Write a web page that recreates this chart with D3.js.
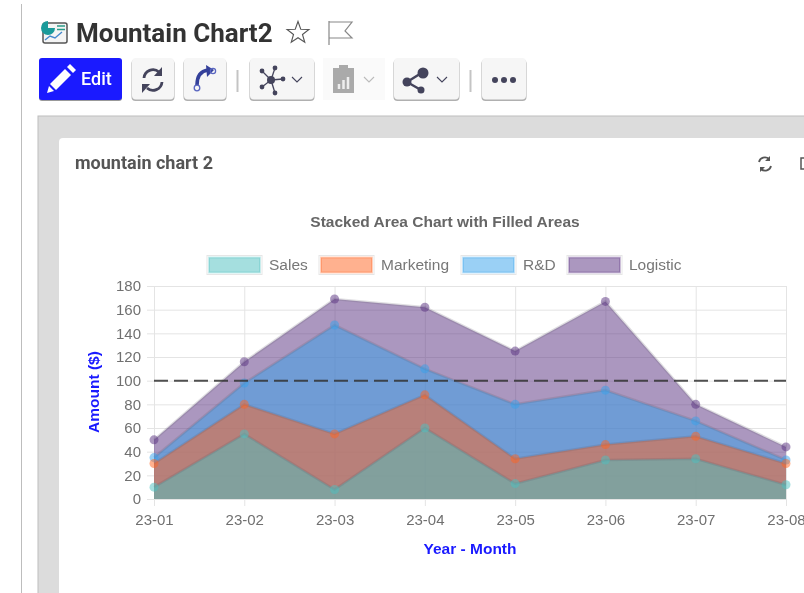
<!DOCTYPE html>
<html>
<head>
<meta charset="utf-8">
<script src="https://cdn.jsdelivr.net/npm/d3@7"></script>
<style>
  html, body { margin: 0; padding: 0; background: #fff; overflow: hidden; }
  svg { display: block; filter: blur(0.35px); }
  .ui { font-family: Roboto, sans-serif; }
  .chart text { font-family: "Liberation Sans", Arial, sans-serif; }
  .tick line { stroke: #e4e4e4; }
  .domain { stroke: #e4e4e4; }
</style>
</head>
<body>
<div id="chart"></div>
<script>
const months = ["23-01", "23-02", "23-03", "23-04", "23-05", "23-06", "23-07", "23-08"];
const sales = [10, 55, 8, 60, 13, 33, 34, 12];
const marketing = [20, 25, 47, 28, 21, 13, 19, 18];
const rnd = [5, 18, 92, 22, 46, 46, 13, 3];
const logistic = [15, 18, 22, 52, 45, 75, 14, 11];
const threshold = 100;
const yTicks = [0, 20, 40, 60, 80, 100, 120, 140, 160, 180];

const seriesNames = ["Sales", "Marketing", "R&D", "Logistic"];
const seriesValues = [sales, marketing, rnd, logistic];
const seriesColors = ["75,192,192", "255,99,32", "54,162,235", "88,48,128"];

const margin = {top: 286, left: 154, right: 786, bottom: 499};

const svg = d3.select("#chart").append("svg")
    .attr("width", 804)
    .attr("height", 593);

// page furniture around the chart
svg.append("line").attr("x1", 21.5).attr("x2", 21.5).attr("y1", 4).attr("y2", 593)
    .attr("stroke", "#bdbdbd").attr("stroke-width", 1);

// little report icon next to the title
const icon = svg.append("g").attr("transform", "translate(41,20)");
icon.append("rect").attr("x", 2).attr("y", 3).attr("width", 24).attr("height", 20).attr("rx", 2)
    .attr("fill", "#f4f4f4").attr("stroke", "#555").attr("stroke-width", 1.5);
icon.append("path").attr("d", "M7 1a7 7 0 1 0 7 7h-7z").attr("fill", "#1a9a9a");
icon.append("path").attr("d", "M16 6h8M16 9.500h8").attr("stroke", "#2a9a88").attr("stroke-width", 1.5);
icon.append("path").attr("d", "M4 20l5-4 5 2 7-6").attr("fill", "none").attr("stroke", "#48c").attr("stroke-width", 1.4);

svg.append("text").attr("class", "ui").attr("x", 76).attr("y", 42)
    .attr("font-size", 26).attr("font-weight", 700).attr("fill", "#333")
    .text("Mountain Chart2");

// star
const starPts = d3.range(10).map(i => {
  const r = i % 2 ? 4.7 : 11.5, a = -Math.PI / 2 + i * Math.PI / 5;
  return [298 + r * Math.cos(a), 33 + r * Math.sin(a)];
});
svg.append("path").attr("d", d3.line()(starPts) + "Z")
    .attr("fill", "none").attr("stroke", "#555").attr("stroke-width", 1.1);
// flag
svg.append("path").attr("d", "M329 21V45M329 22H352L345 31L352 38H329")
    .attr("fill", "none").attr("stroke", "#888").attr("stroke-width", 1.2);

// toolbar
const buttons = [[132, 42], [184, 42], [250, 64], [394, 65], [482, 44]];
buttons.forEach(b => {
  svg.append("rect").attr("x", b[0] - 0.5).attr("y", 59.500).attr("width", b[1] + 1).attr("height", 41.5).attr("rx", 4)
      .attr("fill", "#b0b0b0");
  svg.append("rect").attr("x", b[0]).attr("y", 58).attr("width", b[1]).attr("height", 41.5).attr("rx", 4)
      .attr("fill", "#f6f6f6");
});
svg.append("rect").attr("x", 39).attr("y", 59).attr("width", 83).attr("height", 42).attr("rx", 3).attr("fill", "#999");
svg.append("rect").attr("x", 39).attr("y", 58).attr("width", 83).attr("height", 42).attr("rx", 3).attr("fill", "#1a1aff");
// pencil
svg.append("path").attr("d", "M50 84L65 69L71 75L56 90Z").attr("fill", "#fff");
svg.append("path").attr("d", "M67 67L70 64L76 70L73 73Z").attr("fill", "#fff");
svg.append("path").attr("d", "M49 86L54 91L47 93Z").attr("fill", "#fff");
svg.append("text").attr("class", "ui").attr("x", 81).attr("y", 85)
    .attr("font-size", 18).attr("font-weight", 500).attr("fill", "#fff").text("Edit");

svg.append("rect").attr("x", 323).attr("y", 58).attr("width", 62).attr("height", 42).attr("fill", "#fafafa");
svg.append("rect").attr("x", 333).attr("y", 68).attr("width", 21).attr("height", 25).attr("fill", "#aaa");
svg.append("rect").attr("x", 339).attr("y", 65).attr("width", 9).attr("height", 5).attr("fill", "#aaa");
svg.append("path").attr("d", "M339 89v-5M343.500 89v-9M348 89v-12").attr("stroke", "#eee").attr("stroke-width", 2.5);

[237.5, 470.5].forEach(s => {
  svg.append("line").attr("x1", s).attr("x2", s).attr("y1", 70).attr("y2", 92)
      .attr("stroke", "#c4c4c4").attr("stroke-width", 2);
});

const dark = "#44445c";
// refresh
[["M144 78a9 9 0 0 1 15-6", "M162 67v9h-8"], ["M162 82a9 9 0 0 1-15 6", "M142 93v-9h8"]].forEach(p => {
  svg.append("path").attr("d", p[0]).attr("fill", "none").attr("stroke", dark).attr("stroke-width", 2.8);
  svg.append("path").attr("d", p[1] + "z").attr("fill", dark);
});
// branch arrow
svg.append("path").attr("d", "M197 85c0-9 4-14 11-15").attr("fill", "none").attr("stroke", "#34409a").attr("stroke-width", 3.6);
svg.append("path").attr("d", "M206 65l8 5-7 7z").attr("fill", "#34409a");
svg.append("circle").attr("cx", 197).attr("cy", 88).attr("r", 2.8).attr("fill", "none").attr("stroke", "#5a66c0").attr("stroke-width", 1.3);
svg.append("circle").attr("cx", 213).attr("cy", 71).attr("r", 2.6).attr("fill", "none").attr("stroke", "#5a66c0").attr("stroke-width", 1.3);
// network
[[262, 71], [275, 68], [262, 87], [275, 93], [283, 79]].forEach(p => {
  svg.append("line").attr("x1", 271).attr("y1", 80).attr("x2", p[0]).attr("y2", p[1]).attr("stroke", dark).attr("stroke-width", 1.3);
  svg.append("circle").attr("cx", p[0]).attr("cy", p[1]).attr("r", 2.4).attr("fill", dark);
});
svg.append("circle").attr("cx", 271).attr("cy", 80).attr("r", 4).attr("fill", dark);
// share
svg.append("path").attr("d", "M407 82L423 72M407 82L421 90").attr("stroke", dark).attr("stroke-width", 2.5);
svg.append("circle").attr("cx", 423).attr("cy", 73).attr("r", 5.5).attr("fill", dark);
svg.append("circle").attr("cx", 407).attr("cy", 82).attr("r", 4.5).attr("fill", dark);
svg.append("circle").attr("cx", 421).attr("cy", 90).attr("r", 3.5).attr("fill", dark);
// chevrons
[[297, dark], [369, "#bbb"], [442, dark]].forEach(c => {
  svg.append("path").attr("d", `M${c[0] - 5} 77l5 5 5-5`).attr("fill", "none").attr("stroke", c[1]).attr("stroke-width", 1.1);
});
// more
[495, 504, 513].forEach(cx => {
  svg.append("circle").attr("cx", cx).attr("cy", 80).attr("r", 3).attr("fill", dark);
});

// grey panel and white card
svg.append("rect").attr("x", 38).attr("y", 116).attr("width", 780).attr("height", 490)
    .attr("fill", "#dcdcdc").attr("stroke", "#bdbdbd");
svg.append("rect").attr("x", 59).attr("y", 138).attr("width", 760).attr("height", 470).attr("rx", 4)
    .attr("fill", "#fff");
svg.append("text").attr("class", "ui").attr("x", 75).attr("y", 169)
    .attr("font-size", 18).attr("font-weight", 700).attr("fill", "#555")
    .text("mountain chart 2");
// card refresh icon and the cut off one behind it
svg.append("path").attr("d", "M759 162a6 6 0 0 1 10-3M771 166a6 6 0 0 1-10 3")
    .attr("fill", "none").attr("stroke", "#555").attr("stroke-width", 1.8);
svg.append("path").attr("d", "M770 156v5h-5zM760 172v-5h5z").attr("fill", "#555");
svg.append("path").attr("d", "M804 158h-3v11h3").attr("fill", "none").attr("stroke", "#555").attr("stroke-width", 1.5);

// chart
const chart = svg.append("g").attr("class", "chart");

const x = d3.scalePoint().domain(months).range([margin.left, margin.right]);
const y = d3.scaleLinear().domain([0, 180]).range([margin.bottom, margin.top]);

chart.append("g")
    .attr("transform", `translate(0,${margin.bottom})`)
    .call(d3.axisBottom(x).tickSize(7).tickPadding(8))
    .call(g => g.selectAll(".tick line").attr("y1", 7).attr("y2", -(margin.bottom - margin.top)))
    .call(g => g.selectAll(".tick text").attr("font-size", 15).attr("fill", "#707070"))
    .call(g => g.select(".domain").remove());

chart.append("g")
    .attr("transform", `translate(${margin.left},0)`)
    .call(d3.axisLeft(y).tickValues(yTicks).tickSize(0).tickPadding(13))
    .call(g => g.selectAll(".tick line").attr("x1", -7).attr("x2", margin.right - margin.left))
    .call(g => g.selectAll(".tick text").attr("font-size", 15).attr("fill", "#707070"))
    .call(g => g.select(".domain").remove());

// running totals for the stacking, one row per month
const rows = months.map((m, i) => {
  const row = {month: m};
  seriesNames.forEach((n, k) => { row[n] = seriesValues[k][i]; });
  return row;
});
const stacked = d3.stack().keys(seriesNames)(rows);

const area = d3.area()
    .x(d => x(d.data.month))
    .y0(y(0))
    .y1(d => y(d[1]));
const topLine = d3.line()
    .x(d => x(d.data.month))
    .y(d => y(d[1]));

// each layer fills down to zero, last dataset is painted first
const drawOrder = stacked.slice().reverse();

chart.selectAll(".layer")
    .data(drawOrder)
    .join("path")
    .attr("class", "layer")
    .attr("d", area)
    .attr("fill", d => `rgba(${seriesColors[d.index]},0.5)`);

chart.selectAll(".edge")
    .data(drawOrder)
    .join("path")
    .attr("class", "edge")
    .attr("d", topLine)
    .attr("fill", "none")
    .attr("stroke", "rgba(95,90,105,0.2)")
    .attr("stroke-width", 2.5);

chart.selectAll(".dots")
    .data(drawOrder)
    .join("g")
    .attr("class", "dots")
    .attr("fill", d => `rgba(${seriesColors[d.index]},0.5)`)
    .selectAll("circle")
    .data(d => d)
    .join("circle")
    .attr("cx", d => x(d.data.month))
    .attr("cy", d => y(d[1]))
    .attr("r", 4.5);

chart.append("line")
    .attr("x1", x(months[0])).attr("x2", x(months[months.length - 1]))
    .attr("y1", y(threshold)).attr("y2", y(threshold))
    .attr("stroke", "rgba(50,50,50,0.85)")
    .attr("stroke-width", 2)
    .attr("stroke-dasharray", "14,6");

chart.append("text")
    .attr("x", 445).attr("y", 227)
    .attr("text-anchor", "middle").attr("font-size", 15.5).attr("font-weight", 700).attr("fill", "#666")
    .text("Stacked Area Chart with Filled Areas");

// legend
const legendX = [208, 320, 462, 568];
const legend = chart.selectAll(".legend")
    .data(seriesNames)
    .join("g")
    .attr("class", "legend")
    .attr("transform", (d, i) => `translate(${legendX[i]},256.500)`);
legend.append("rect")
    .attr("x", -1).attr("y", -1).attr("width", 55).attr("height", 19)
    .attr("fill", "none").attr("stroke", "#e6e6e6");
legend.append("rect")
    .attr("x", 1).attr("y", 1).attr("width", 51).attr("height", 15)
    .attr("fill", (d, i) => `rgba(${seriesColors[i]},0.5)`)
    .attr("stroke", (d, i) => `rgba(${seriesColors[i]},0.3)`)
    .attr("stroke-width", 2);
legend.append("text")
    .attr("x", 61).attr("y", 13)
    .attr("font-size", 15.5).attr("fill", "#777")
    .text(d => d);

chart.append("text")
    .attr("x", 470).attr("y", 554)
    .attr("text-anchor", "middle").attr("font-size", 15.5).attr("font-weight", 700).attr("fill", "#1a1aff")
    .text("Year - Month");

chart.append("text")
    .attr("transform", "translate(99,392) rotate(-90)")
    .attr("text-anchor", "middle").attr("font-size", 15.5).attr("font-weight", 700).attr("fill", "#1a1aff")
    .text("Amount ($)");
</script>
</body>
</html>
